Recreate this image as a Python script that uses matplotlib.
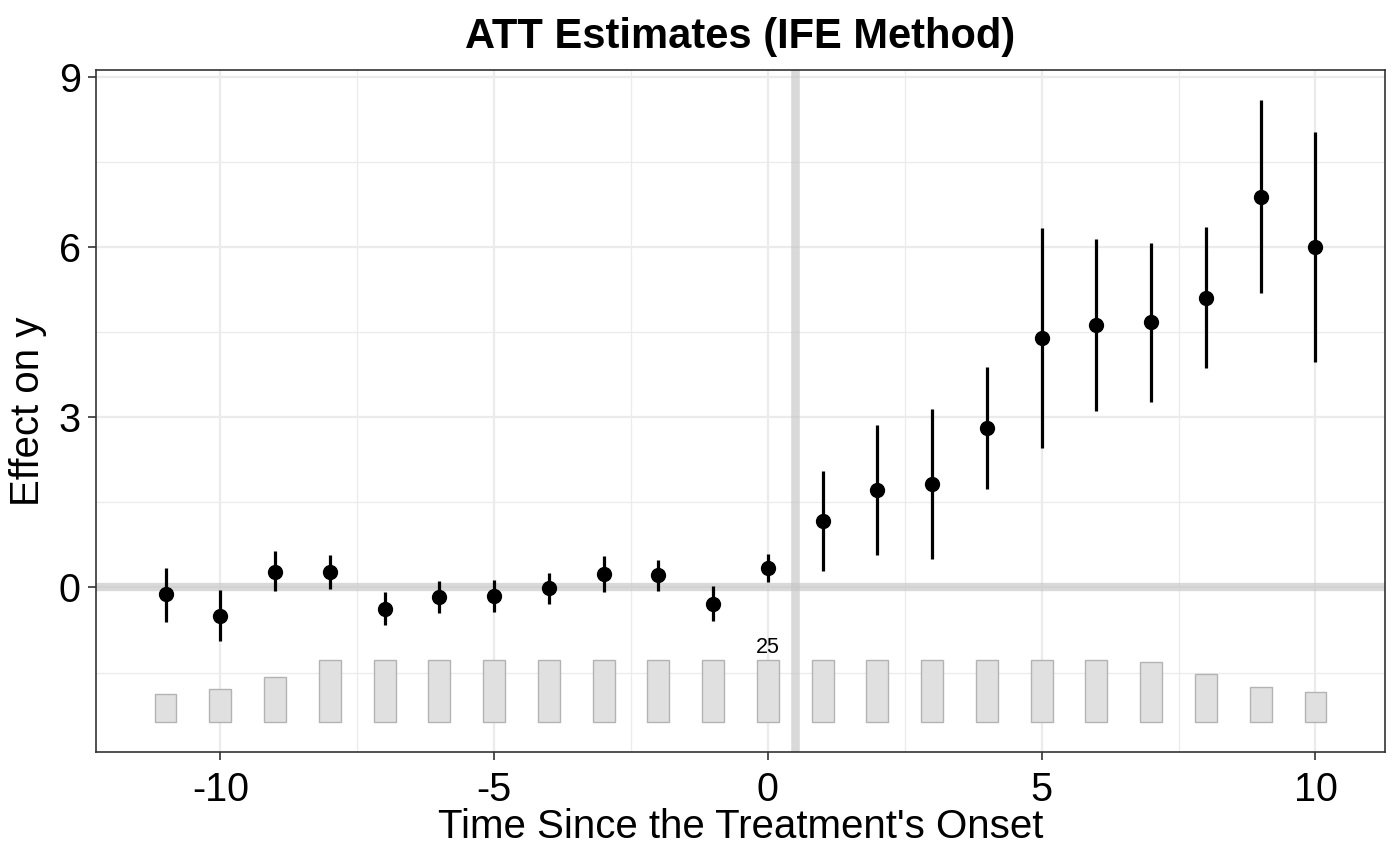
import matplotlib
matplotlib.use("Agg")
import matplotlib.pyplot as plt
import numpy as np

# ---- data ----
periods = [-11, -10, -9, -8, -7, -6, -5, -4, -3, -2, -1, 0, 1, 2, 3, 4, 5, 6, 7, 8, 9, 10]
att = [-0.12, -0.50, 0.28, 0.28, -0.38, -0.17, -0.15, -0.01, 0.24, 0.22, -0.29, 0.34,
       1.18, 1.71, 1.83, 2.81, 4.40, 4.63, 4.67, 5.11, 6.89, 6.00]
ci_upper = [0.34, -0.04, 0.65, 0.58, -0.08, 0.12, 0.14, 0.25, 0.56, 0.49, 0.02, 0.59,
            2.06, 2.86, 3.15, 3.88, 6.33, 6.15, 6.07, 6.36, 8.59, 8.02]
ci_lower = [-0.60, -0.95, -0.07, -0.02, -0.67, -0.45, -0.44, -0.29, -0.08, -0.06, -0.59, 0.09,
            0.29, 0.57, 0.50, 1.74, 2.46, 3.11, 3.26, 3.86, 5.19, 3.97]
n_treated = [11, 13, 18, 25, 25, 25, 25, 25, 25, 25, 25, 25,
             25, 25, 25, 25, 25, 25, 24, 19, 14, 12]
title = "ATT Estimates (IFE Method)"
xlabel = "Time Since the Treatment's Onset"
ylabel = "Effect on y"
xticks = [-10, -5, 0, 5, 10]
yticks = [0, 3, 6, 9]

plt.rcParams['font.family'] = ['Liberation Sans', 'DejaVu Sans']

fig = plt.figure(figsize=(14, 8.65), dpi=100)
ax = fig.add_axes([96/1400, 1-752/865, (1385-96)/1400, (752-70)/865])

x = np.array(periods)
y = np.array(att)
lo = np.array(ci_lower)
hi = np.array(ci_upper)
n = np.array(n_treated)

# count bars at bottom
bar_base = -2.37
bar_max_h = 1.10
heights = n / n.max() * bar_max_h
ax.bar(x, heights, bottom=bar_base, width=0.4, color='#e0e0e0',
       edgecolor='#b3b3b3', linewidth=1.0, zorder=2)
# label max count at period 0
i0 = periods.index(0)
ax.text(0, bar_base + heights[i0] + 0.03, str(n[i0]), ha='center', va='bottom',
        fontsize=15.5, color='black', zorder=5)

# reference lines
ax.axhline(0, color='#c6c6c6', alpha=0.65, linewidth=6, zorder=1.5)
ax.axvline(0.5, color='#c6c6c6', alpha=0.65, linewidth=6.2, zorder=1.5)

# error bars and points
ax.vlines(x, lo, hi, color='black', linewidth=2.3, zorder=4)
ax.plot(x, y, 'o', color='black', markersize=10, zorder=5)

ax.set_xlim(-12.27, 11.27)
ax.set_ylim(-2.90, 9.12)
ax.set_xticks(xticks)
ax.set_xticklabels([str(t) for t in xticks])
ax.set_yticks(yticks)
ax.set_xticks([-7.5, -2.5, 2.5, 7.5], minor=True)
ax.set_yticks([-1.5, 1.5, 4.5, 7.5], minor=True)

ax.grid(which='major', color='#ebebeb', linewidth=1.6, zorder=0)
ax.grid(which='minor', color='#ebebeb', linewidth=0.9, zorder=0)
ax.set_axisbelow(True)

for s in ax.spines.values():
    s.set_color('#333333')
    s.set_linewidth(1.2)

ax.tick_params(axis='both', which='major', length=6, width=1.2, color='#333333',
               labelsize=28.5, labelcolor='black')
ax.tick_params(axis='x', which='major', pad=8)
ax.tick_params(axis='y', which='major', pad=5)
ax.tick_params(axis='both', which='minor', length=0)

ax.set_xlabel(xlabel, fontsize=29, labelpad=-1)
ax.set_ylabel(ylabel, fontsize=29, labelpad=8)
ax.set_title(title, fontsize=30, fontweight='bold', pad=16)

fig.savefig('out.png', dpi=100)
